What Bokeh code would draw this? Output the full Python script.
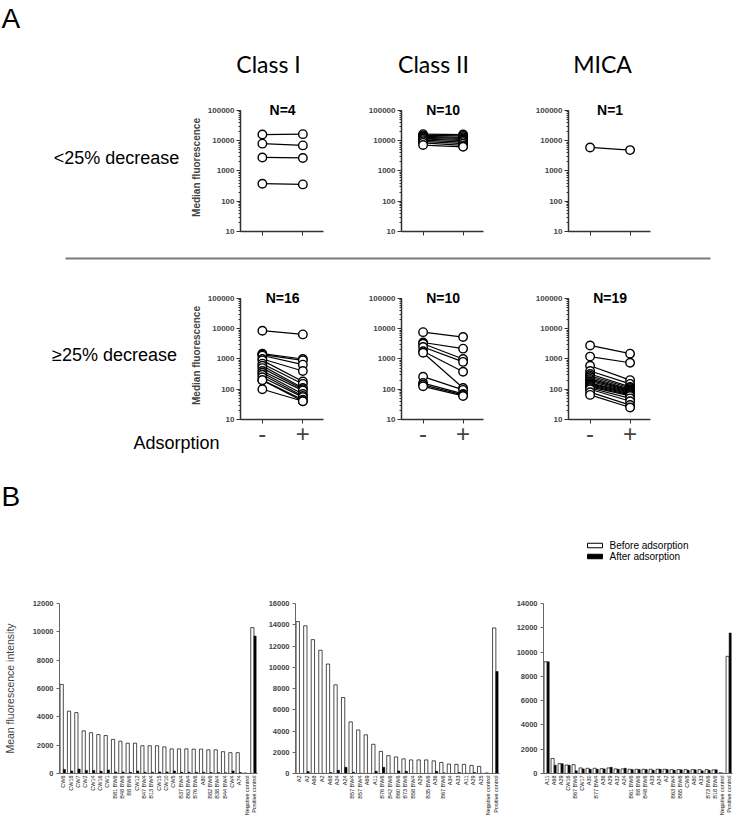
import math
from bokeh.plotting import figure
from bokeh.layouts import row, column
from bokeh.models import Range1d, FixedTicker, NumeralTickFormatter, ColumnDataSource, SingleIntervalTicker
from bokeh.transform import dodge
from bokeh.embed import file_html
from bokeh.resources import INLINE
from bokeh.core.properties import value

FONT = "Liberation Sans"
TFONT = "Lato"

# ---------------- Panel A data (median fluorescence, before / after adsorption) -------------
col_titles = ["Class I", "Class II", "MICA"]
row_labels = ["<25% decrease", "\u226525% decrease"]
adsorption_label = "Adsorption"
adsorption_ticks = ["-", "+"]
y_label_a = "Median fluorescence"

c1_lt_before = [16000, 8000, 2800, 380]
c1_lt_after = [16500, 7000, 2700, 360]
c2_lt_before = [16500, 15000, 14000, 13000, 12000, 11500, 10500, 9500, 8500, 7200]
c2_lt_after = [16000, 14500, 13000, 12000, 11000, 10000, 9000, 8000, 7000, 6300]
mi_lt_before = [6000]
mi_lt_after = [4900]

c1_ge_before = [8600, 1500, 1400, 1300, 1000, 900, 700, 600, 500, 400, 350, 300, 250, 200, 200, 100]
c1_ge_after = [6500, 1000, 900, 650, 400, 180, 150, 110, 100, 90, 70, 60, 55, 45, 40, 40]
c2_ge_before = [7700, 3500, 3200, 2500, 1800, 1600, 260, 160, 140, 125]
c2_ge_after = [5300, 2200, 1000, 800, 380, 110, 95, 70, 65, 60]
mi_ge_before = [2800, 1200, 600, 400, 320, 280, 250, 220, 200, 180, 160, 150, 140, 130, 120, 110, 100, 80, 65]
mi_ge_after = [1500, 750, 200, 150, 120, 110, 100, 95, 90, 85, 80, 75, 70, 65, 60, 50, 40, 30, 25]

# ---------------- Panel B data (mean fluorescence intensity) ----------------
legend_labels = ["Before adsorption", "After adsorption"]
y_label_b = "Mean fluorescence intensity"

b1_labels = ["CW6", "CW18", "CW7", "CW2", "CW14", "CW16", "CW1", "B81 BW6", "B48 BW6", "B8 BW6",
             "CW12", "B47 BW4", "B13 BW4", "CW15", "CW10", "CW5", "B37 BW4", "B63 BW4", "B76 BW6",
             "A80", "B82 BW6", "B38 BW4", "B44 BW4", "CW4", "A74", "Negative control", "Positive control"]
b1_before = [6290, 4400, 4300, 3010, 2880, 2750, 2680, 2410, 2280, 2140, 2140, 1960, 1960, 1960,
             1880, 1740, 1740, 1740, 1720, 1720, 1670, 1670, 1540, 1470, 1470, 30, 10300]
b1_after = [290, 180, 310, 220, 220, 160, 250, 110, 110, 90, 180, 90, 90, 110, 110, 180, 90, 90,
            90, 90, 70, 70, 45, 180, 70, 10, 9700]

b2_labels = ["A2", "A2", "A68", "A2", "A68", "A24", "A24", "B57 BW4", "B57 BW4", "A69", "A11",
             "B76 BW6", "B42 BW6", "B60 BW6", "B73 BW6", "B58 BW4", "A29", "B35 BW6", "A36",
             "B67 BW6", "A34", "A33", "A11", "A29", "A25", "Negative control", "Positive control"]
b2_before = [14300, 13900, 12600, 11600, 10300, 8350, 7150, 4860, 4100, 3640, 2750, 2080, 1680,
             1560, 1380, 1280, 1280, 1280, 1190, 1040, 890, 860, 860, 760, 670, 50, 13700]
b2_after = [10, 180, 20, 20, 90, 300, 580, 120, 30, 20, 210, 580, 20, 240, 210, 20, 20, 20, 210,
            60, 20, 90, 30, 90, 20, 10, 9600]

b3_labels = ["A11", "A68", "A29", "CW16", "B67 BW6", "CW17", "A30", "B77 BW4", "A36", "A29", "A32",
             "A24", "B61 BW6", "B8 BW6", "B48 BW6", "A33", "A24", "A2", "B63 BW4", "B65 BW6", "CW8",
             "A80", "A33", "B73 BW6", "B18 BW6", "Negative control", "Positive control"]
b3_before = [9200, 1240, 810, 700, 730, 460, 430, 430, 400, 460, 380, 380, 350, 350, 350, 350,
             350, 350, 320, 320, 320, 320, 320, 320, 300, 60, 9650]
b3_after = [9200, 680, 810, 680, 220, 380, 350, 350, 380, 510, 350, 430, 320, 320, 320, 270, 350,
            320, 270, 300, 270, 300, 220, 270, 300, 30, 11570]


def canvas(w, h):
    p = figure(width=w, height=h, x_range=Range1d(0, w), y_range=Range1d(h, 0),
               x_axis_type=None, y_axis_type=None, output_backend="svg",
               toolbar_location=None, min_border=0)
    p.outline_line_color = None
    p.background_fill_color = "white"
    return p


def put_text(p, x, y, t, size, font=FONT, align="center", style="normal", color="black"):
    p.text(x=[x], y=[y], text=[t], text_font=value(font), text_font_size=size,
           text_align=align, text_baseline="middle", text_font_style=style, text_color=color)


def pair_plot(before, after, n_label, left, right, top, bottom, ylabel=None, xlabels=None,
              side_texts=()):
    frame_h, frame_w = 128, 83
    p = figure(width=left + frame_w + right, height=top + frame_h + bottom, y_axis_type="log",
               x_range=Range1d(-0.54, 1.51), y_range=Range1d(10, 1.7e5),
               output_backend="svg", toolbar_location=None,
               min_border_left=left, min_border_right=right,
               min_border_top=top, min_border_bottom=bottom)
    p.outline_line_color = None
    p.grid.visible = False
    n = len(before)
    src = ColumnDataSource(dict(xb=[0] * n, xa=[1] * n, b=before, a=after))
    p.segment(x0="xb", y0="b", x1="xa", y1="a", source=src, line_color="black", line_width=1.2)
    p.scatter(x="xb", y="b", source=src, size=8.5, marker="circle", fill_color="white",
              line_color="black", line_width=1.4)
    p.scatter(x="xa", y="a", source=src, size=8.5, marker="circle", fill_color="white",
              line_color="black", line_width=1.4)
    p.text(x=[0.5], y=[1e5], text=[n_label], text_font=value(FONT), text_font_style="bold",
           text_font_size="14px", text_align="center", text_baseline="middle")
    # texts that sit in the margin, anchored at the lower-left corner of the frame
    for t, dx, dy in side_texts:
        p.text(x=[-0.54], y=[10], text=[t], x_offset=dx, y_offset=dy, text_font=value(FONT),
               text_font_size="18px", text_align="center", text_baseline="middle",
               level="overlay")

    ay = p.yaxis[0]
    ay.bounds = (10, 100000)
    ay.formatter = NumeralTickFormatter(format="0")
    ay.major_label_text_font = FONT
    ay.major_label_text_font_size = "8px"
    ay.major_label_text_font_style = "bold"
    ay.major_label_standoff = 2
    ay.axis_line_width = 1.5
    ay.axis_line_color = "#333333"
    ay.major_tick_line_color = "#333333"
    ay.minor_tick_line_color = "#333333"
    ay.major_tick_in = 0
    ay.major_tick_out = 4
    ay.minor_tick_in = 0
    ay.minor_tick_out = 2
    if ylabel:
        ay.axis_label = ylabel
        ay.axis_label_text_font = FONT
        ay.axis_label_text_font_size = "10px"
        ay.axis_label_text_font_style = "bold"
        ay.axis_label_standoff = 3

    ax = p.xaxis[0]
    ax.ticker = FixedTicker(ticks=[0, 1])
    ax.axis_line_width = 1.5
    ax.axis_line_color = "#333333"
    ax.major_tick_line_color = "#333333"
    ax.major_tick_in = 0
    ax.major_tick_out = 4
    ax.major_label_text_font = FONT
    if xlabels:
        ax.major_label_overrides = {0: xlabels[0], 1: xlabels[1]}
        ax.major_label_text_font_size = "24px"
        ax.major_label_standoff = 1
    else:
        ax.major_label_overrides = {0: "", 1: ""}
        ax.major_label_text_font_size = "1px"
        ax.major_label_standoff = 0
    return p


def bar_plot(labels, before, after, ymax, left, right, top, width, height=229, bottom=44,
             ylabel=None):
    n = len(labels)
    xs = list(range(n))
    p = figure(width=width, height=height, x_range=Range1d(-0.5, n - 0.5),
               y_range=Range1d(0, ymax), output_backend="svg", toolbar_location=None,
               min_border_left=left, min_border_right=right,
               min_border_top=top, min_border_bottom=bottom)
    p.outline_line_color = None
    p.grid.visible = False
    src = ColumnDataSource(dict(x=xs, before=before, after=after, zero=[0] * n, lab=labels))
    p.vbar(x=dodge("x", -0.2, range=p.x_range), width=0.44, top="before", bottom=0, source=src,
           fill_color="white", line_color="black", line_width=0.7)
    p.vbar(x=dodge("x", 0.17, range=p.x_range), width=0.3, top="after", bottom=0, source=src,
           fill_color="black", line_color="black", line_width=0.5)
    # category labels, vertical, hanging below the axis
    p.text(x="x", y="zero", text="lab", source=src, angle=math.pi / 2, y_offset=2,
           text_align="right", text_baseline="middle", text_font=value(FONT),
           text_font_size="5.5px", text_color="#111111", level="overlay")

    ay = p.yaxis[0]
    ay.ticker = SingleIntervalTicker(interval=2000, num_minor_ticks=0)
    ay.formatter = NumeralTickFormatter(format="0")
    ay.major_label_text_font = FONT
    ay.major_label_text_font_size = "7.5px"
    ay.major_label_text_font_style = "bold"
    ay.major_label_standoff = 3
    ay.axis_line_color = "#666666"
    ay.major_tick_line_color = "#666666"
    ay.major_tick_in = 0
    ay.major_tick_out = 3
    ay.minor_tick_line_color = None
    if ylabel:
        ay.axis_label = ylabel
        ay.axis_label_text_font = FONT
        ay.axis_label_text_font_size = "10.5px"
        ay.axis_label_text_font_style = "normal"
        ay.axis_label_standoff = 14

    ax = p.xaxis[0]
    ax.ticker = FixedTicker(ticks=xs)
    ax.major_label_overrides = {i: "" for i in xs}
    ax.major_label_text_font_size = "1px"
    ax.major_label_standoff = 0
    ax.axis_line_color = "#666666"
    ax.major_tick_line_color = None
    ax.minor_tick_line_color = None
    return p


# ---------------- header of panel A ----------------
head = canvas(734, 94)
put_text(head, 1, 18, "A", "28px", align="left")
for cx, t in zip([268, 433, 602], col_titles):
    put_text(head, cx, 63, t, "23px", font=TFONT)

# ---------------- row 1 ----------------
lab1 = canvas(185, 150)
put_text(lab1, 116, 64, row_labels[0], "18px")
r1 = [
    pair_plot(c1_lt_before, c1_lt_after, "N=4", 55, 42, 9, 13, ylabel=y_label_a),
    pair_plot(c2_lt_before, c2_lt_after, "N=10", 35, 49, 9, 13),
    pair_plot(mi_lt_before, mi_lt_after, "N=1", 35, 84, 9, 13),
]

sep = canvas(734, 39)
sep.segment(x0=[65], y0=[14], x1=[710], y1=[14], line_color="#7a7a7a", line_width=2)

# ---------------- row 2 ----------------
r2 = [
    pair_plot(c1_ge_before, c1_ge_after, "N=16", 240, 42, 8, 40, ylabel=y_label_a,
              xlabels=adsorption_ticks,
              side_texts=[(row_labels[1], -126, -65), (adsorption_label, -64, 23)]),
    pair_plot(c2_ge_before, c2_ge_after, "N=10", 35, 49, 8, 40, xlabels=adsorption_ticks),
    pair_plot(mi_ge_before, mi_ge_after, "N=19", 35, 84, 8, 40, xlabels=adsorption_ticks),
]

# ---------------- header of panel B ----------------
bhead = canvas(734, 129)
put_text(bhead, 1, 37, "B", "28px", align="left")
bhead.rect(x=[594.5], y=[86], width=15, height=4.5, fill_color="white", line_color="black",
           line_width=1)
bhead.rect(x=[594.5], y=[97], width=15, height=4.5, fill_color="black", line_color="black",
           line_width=1)
put_text(bhead, 609, 86, legend_labels[0], "10px", align="left")
put_text(bhead, 609, 97, legend_labels[1], "10px", align="left")

bars = [
    bar_plot(b1_labels, b1_before, b1_after, 12000, 57, 2, 10, 259, ylabel=y_label_b),
    bar_plot(b2_labels, b2_before, b2_after, 16000, 36, 2, 15, 242),
    bar_plot(b3_labels, b3_before, b3_after, 14000, 42, 2, 14, 233),
]

layout = column(
    head,
    row(lab1, *r1),
    sep,
    row(*r2),
    bhead,
    row(*bars),
)

open("out.html", "w").write(file_html(layout, INLINE))
